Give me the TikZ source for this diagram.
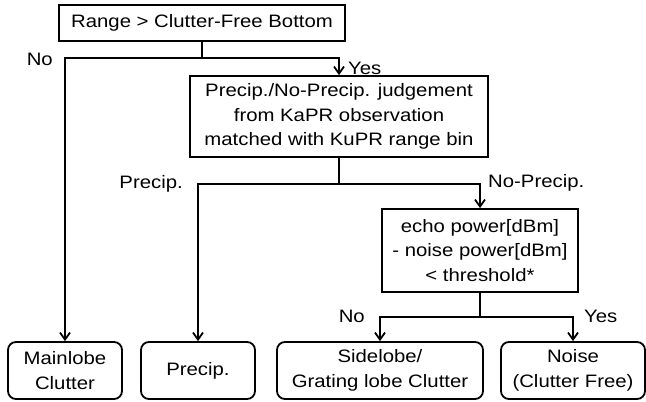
\documentclass[tikz,border=0pt]{standalone}
\usepackage{fontspec}
\setmainfont{Liberation Sans}[FakeStretch=1.13]
\usetikzlibrary{arrows.meta,calc}

\tikzset{
    Box/.style={draw, line width=1.8pt, inner sep=0pt, align=center, font=\fontsize{18}{24.5}\selectfont},
    Leaf/.style={Box, rounded corners=8pt, minimum height=57pt},
    Branch/.style={line width=1.8pt},
    Flow/.style={Branch, -{Straight Barb[length=7pt,width=10pt]}},
    Answer/.style={font=\fontsize{18}{24.5}\selectfont, inner sep=0pt}
}

\begin{document}
\begin{tikzpicture}[x=1pt,y=-1pt]
    %% Background
    \draw[draw=none] (0,0) to (0,402) to (646,402) to (646,0) to (0,0);

    %% Decisions
    \node[Box, minimum width=286pt, minimum height=36pt] (range) at (202,23) {Range > Clutter-Free Bottom};
    \node[Box, minimum width=298pt, minimum height=81pt] (judge) at (339,116.5)
        {Precip./No-Precip. judgement\\from KaPR observation\\matched with KuPR range bin};
    \node[Box, minimum width=196pt, minimum height=83pt] (check) at (480,250.5)
        {echo power[dBm]\\- noise power[dBm]\\< threshold*};

    %% Results
    \node[Leaf, minimum width=114pt] (mainlobe) at (65,370.5) {Mainlobe\\Clutter};
    \node[Leaf, minimum width=114pt] (precip) at (198,370.5) {Precip.};
    \node[Leaf, minimum width=206pt] (sidelobe) at (380,370.5) {Sidelobe/\\Grating lobe Clutter};
    \node[Leaf, minimum width=144pt] (noise) at (573,370.5) {Noise\\(Clutter Free)};

    %% Branches
    \draw[Branch] (range.south) to ++(0,16) coordinate (split1);
    \draw[Flow] (split1) -| (mainlobe.north);
    \draw[Flow] (split1) -| (judge.north);

    \draw[Branch] (judge.south) to ++(0,26) coordinate (split2);
    \draw[Flow] (split2) -| (precip.north);
    \draw[Flow] (split2) -| (check.north);

    \draw[Branch] (check.south) to ++(0,24) coordinate (split3);
    \draw[Flow] (split3) -| (sidelobe.north);
    \draw[Flow] (split3) -| (noise.north);

    %% Answers
    \node[Answer, anchor=base east] (no1) at (53,65) {No};
    \node[Answer, anchor=base west] (yes1) at (348,74) {Yes};
    \node[Answer, anchor=base east] (precipA) at (183,188) {Precip.};
    \node[Answer, anchor=base west] (noprecipA) at (488,187) {No-Precip.};
    \node[Answer, anchor=base east] (no2) at (365,322) {No};
    \node[Answer, anchor=base west] (yes2) at (584,322) {Yes};
\end{tikzpicture}
\end{document}
